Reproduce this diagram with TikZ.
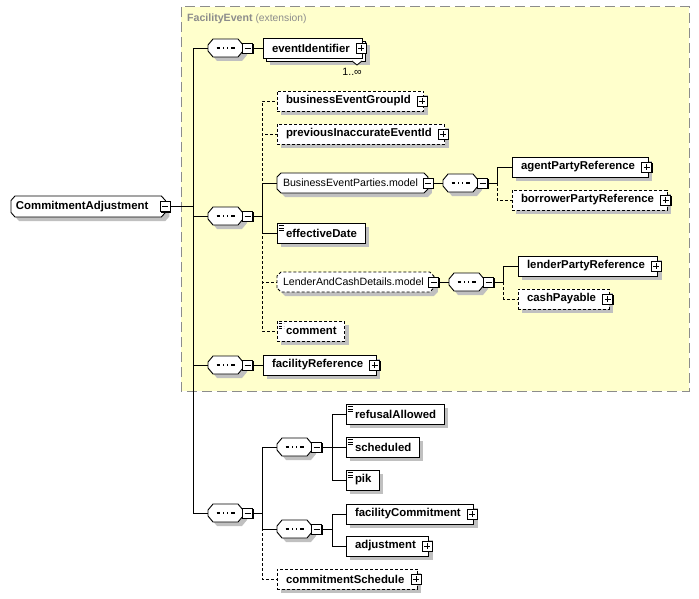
\documentclass[tikz,border=0pt]{standalone}
\usepackage{fontspec}
\setmainfont{Liberation Sans}
\usetikzlibrary{positioning,calc,shadows}

\definecolor{extfill}{HTML}{FFFFCC}
\definecolor{extline}{HTML}{8C8C8C}
\definecolor{shade}{HTML}{C0C0C0}

\newcommand{\lblfont}{\fontsize{11.4}{13}\selectfont\bfseries}
\newcommand{\grpfont}{\fontsize{10.6}{12}\selectfont}

% octagon with separate cuts in x and y
\makeatletter
\newdimen\oct@l \newdimen\oct@r \newdimen\oct@b \newdimen\oct@t
\newdimen\oct@cx \newdimen\oct@cy
\pgfkeys{/pgf/oct cut x/.initial=4pt,/pgf/oct cut y/.initial=4pt}
\pgfdeclareshape{octbox}{
  \inheritsavedanchors[from=rectangle]
  \inheritanchorborder[from=rectangle]
  \inheritanchor[from=rectangle]{center}
  \inheritanchor[from=rectangle]{north}
  \inheritanchor[from=rectangle]{south}
  \inheritanchor[from=rectangle]{east}
  \inheritanchor[from=rectangle]{west}
  \inheritanchor[from=rectangle]{north east}
  \inheritanchor[from=rectangle]{north west}
  \inheritanchor[from=rectangle]{south east}
  \inheritanchor[from=rectangle]{south west}
  \inheritanchor[from=rectangle]{base}
  \inheritanchor[from=rectangle]{mid}
  \backgroundpath{
    \southwest \global\oct@l=\pgf@x \global\oct@b=\pgf@y
    \northeast \global\oct@r=\pgf@x \global\oct@t=\pgf@y
    \pgfmathsetlength\oct@cx{\pgfkeysvalueof{/pgf/oct cut x}}
    \pgfmathsetlength\oct@cy{\pgfkeysvalueof{/pgf/oct cut y}}
    \pgfpathmoveto{\pgfqpoint{\oct@l}{\dimexpr\oct@b+\oct@cy\relax}}
    \pgfpathlineto{\pgfqpoint{\oct@l}{\dimexpr\oct@t-\oct@cy\relax}}
    \pgfpathlineto{\pgfqpoint{\dimexpr\oct@l+\oct@cx\relax}{\oct@t}}
    \pgfpathlineto{\pgfqpoint{\dimexpr\oct@r-\oct@cx\relax}{\oct@t}}
    \pgfpathlineto{\pgfqpoint{\oct@r}{\dimexpr\oct@t-\oct@cy\relax}}
    \pgfpathlineto{\pgfqpoint{\oct@r}{\dimexpr\oct@b+\oct@cy\relax}}
    \pgfpathlineto{\pgfqpoint{\dimexpr\oct@r-\oct@cx\relax}{\oct@b}}
    \pgfpathlineto{\pgfqpoint{\dimexpr\oct@l+\oct@cx\relax}{\oct@b}}
    \pgfpathclose
  }
}
\makeatother

\tikzset{
  wire/.style={line width=0.9pt},
  optwire/.style={wire,dash pattern=on 3pt off 2pt},
  optional/.style={dash pattern=on 3pt off 2pt},
  box/.style={draw,fill=white,line width=0.9pt,anchor=west,minimum height=20pt,
    inner xsep=0pt,inner ysep=0pt,outer sep=0pt,
    drop shadow={shadow xshift=4pt,shadow yshift=-4pt,fill=shade,opacity=1}},
  elem/.style={box,font=\lblfont,
    execute at begin node=\hspace*{9pt},execute at end node=\hspace*{13pt}},
  simple/.style={box,font=\lblfont,
    execute at begin node=\hspace*{9pt},execute at end node=\hspace*{8pt},
    path picture={\foreach \d in {2.5,5,7.5}
      \draw[line width=0.8pt] ([xshift=1.5pt,yshift=-\d pt]path picture bounding box.north west) -- ++(5pt,0pt);}},
  root/.style={box,shape=octbox,/pgf/oct cut x=4pt,/pgf/oct cut y=4.5pt,minimum height=21pt,
    font=\lblfont,execute at begin node=\hspace*{5pt},execute at end node=\hspace*{17pt}},
  grp/.style={box,shape=octbox,/pgf/oct cut x=4pt,/pgf/oct cut y=4pt,
    font=\grpfont,execute at begin node=\hspace*{6pt},execute at end node=\hspace*{10pt}},
  seqbox/.style={box,shape=octbox,/pgf/oct cut x=5pt,/pgf/oct cut y=6pt,
    minimum width=35pt,minimum height=18pt,
    path picture={
      \draw[line width=1.2pt] ([xshift=-9pt]path picture bounding box.center) -- ([xshift=9pt]path picture bounding box.center);
      \foreach \d in {-3.7,0,3.7}
        \fill ([xshift=\d pt-1.4pt,yshift=-1.4pt]path picture bounding box.center) rectangle ++(2.8pt,2.8pt);}},
  pm/.style={draw,fill=white,line width=0.8pt,minimum size=10pt,inner sep=0pt,
    drop shadow={shadow xshift=1pt,shadow yshift=-1pt,fill=black,opacity=1}},
  minus/.style={pm,path picture={\draw[line width=0.9pt] ([xshift=2pt]path picture bounding box.west) -- ([xshift=-2pt]path picture bounding box.east);}},
  plus/.style={pm,path picture={
    \draw[line width=0.9pt] ([xshift=2pt]path picture bounding box.west) -- ([xshift=-2pt]path picture bounding box.east);
    \draw[line width=0.9pt] ([yshift=-2pt]path picture bounding box.north) -- ([yshift=2pt]path picture bounding box.south);}},
}

\begin{document}
\begin{tikzpicture}[x=1pt,y=-1pt]
\useasboundingbox (0,0) rectangle (699,599);

% extension area
\fill[extfill] (181,7) rectangle (689,391);
\draw[extline,line width=1pt,dash pattern=on 10pt off 5pt] (181,7) rectangle (689,391);
\node[anchor=west,text=extline,inner sep=0pt] (ext) at (187,19)
  {\fontsize{10.6}{12}\selectfont\bfseries FacilityEvent\ \mdseries\fontsize{10.3}{12}\selectfont(extension)};

% root
\node[root] (ca) at (11,206.5) {CommitmentAdjustment};
\node[minus] (ca-m) at (ca.east) {};

% sequences below the root
\node[seqbox] (sq1) at (208,48) {};
\node[minus] (sq1-m) at ([xshift=4.5pt]sq1.east) {};
\node[seqbox] (sq2) at (208,216) {};
\node[minus] (sq2-m) at ([xshift=4.5pt]sq2.east) {};
\node[seqbox] (sq3) at (208,365) {};
\node[minus] (sq3-m) at ([xshift=4.5pt]sq3.east) {};
\node[seqbox] (sq4) at (208,513) {};
\node[minus] (sq4-m) at ([xshift=4.5pt]sq4.east) {};

% first sequence
\node[elem,drop shadow={shadow xshift=7pt,shadow yshift=-7pt,fill=shade,opacity=1},
  copy shadow={shadow xshift=3pt,shadow yshift=-3pt,draw=black,fill=white,line width=0.9pt}] (eid) at (263,48) {eventIdentifier};
\node[plus] (eid-p) at ([xshift=-1.5pt]eid.east) {};
\draw[fill=white,line width=0.8pt] (352,61) -- (357,65) -- (362,61);
\node[anchor=east,inner sep=0pt,font=\fontsize{10.6}{12}\selectfont] (eid-occ) at (362,72) {1..∞};

% second sequence
\node[elem,optional] (beg) at (277,101) {businessEventGroupId};
\node[plus] (beg-p) at ([xshift=-1.5pt]beg.east) {};
\node[elem,optional] (pie) at (277,134) {previousInaccurateEventId};
\node[plus] (pie-p) at ([xshift=-1.5pt]pie.east) {};
\node[grp] (bep) at (277,183) {BusinessEventParties.model};
\node[minus] (bep-m) at (bep.east) {};
\node[simple] (eff) at (277,233) {effectiveDate};
\node[grp,optional] (lcd) at (277,282) {LenderAndCashDetails.model};
\node[minus] (lcd-m) at (lcd.east) {};
\node[simple,optional] (cmt) at (277,331) {comment};

\node[seqbox] (sq7) at (443,183) {};
\node[minus] (sq7-m) at ([xshift=4.5pt]sq7.east) {};
\node[elem] (apr) at (512,167) {agentPartyReference};
\node[plus] (apr-p) at ([xshift=-1.5pt]apr.east) {};
\node[elem,optional] (bpr) at (512,200) {borrowerPartyReference};
\node[plus] (bpr-p) at ([xshift=-1.5pt]bpr.east) {};

\node[seqbox] (sq8) at (449,282) {};
\node[minus] (sq8-m) at ([xshift=4.5pt]sq8.east) {};
\node[elem] (lpr) at (518,266) {lenderPartyReference};
\node[plus] (lpr-p) at ([xshift=-1.5pt]lpr.east) {};
\node[elem,optional] (cpy) at (518,299) {cashPayable};
\node[plus] (cpy-p) at ([xshift=-1.5pt]cpy.east) {};

% third sequence
\node[elem] (fref) at (263,365) {facilityReference};
\node[plus] (fref-p) at ([xshift=-1.5pt]fref.east) {};

% fourth sequence
\node[seqbox] (sq5) at (277,447) {};
\node[minus] (sq5-m) at ([xshift=4.5pt]sq5.east) {};
\node[simple] (ral) at (346,414) {refusalAllowed};
\node[simple] (sch) at (346,447) {scheduled};
\node[simple] (pik) at (346,480) {pik};

\node[seqbox] (sq6) at (277,529) {};
\node[minus] (sq6-m) at ([xshift=4.5pt]sq6.east) {};
\node[elem] (fcm) at (346,514) {facilityCommitment};
\node[plus] (fcm-p) at ([xshift=-1.5pt]fcm.east) {};
\node[elem] (adj) at (346,546) {adjustment};
\node[plus] (adj-p) at ([xshift=-1.5pt]adj.east) {};

\node[elem,optional] (csc) at (277,579) {commitmentSchedule};
\node[plus] (csc-p) at ([xshift=-1.5pt]csc.east) {};

% branch points
\coordinate (b0) at (193,0);
\coordinate (b1) at (262,0);
\coordinate (b2) at (497,0);
\coordinate (b3) at (503.5,0);
\coordinate (b4) at (332,0);

% connectors
\draw[wire] (ca-m.east) -- (ca-m.east -| b0);
\foreach \s in {sq1,sq2,sq3,sq4}
  \draw[wire] (ca-m.east -| b0) |- (\s.west);
\draw[wire] (sq1-m.east) -- (eid.west);
\draw[wire] (sq3-m.east) -- (fref.west);

\draw[wire] (sq2-m.east) -- (sq2-m.east -| b1);
\foreach \c in {beg,pie,lcd,cmt}
  \draw[optwire] (sq2-m.east -| b1) |- (\c.west);
\foreach \c in {bep,eff}
  \draw[wire] (sq2-m.east -| b1) |- (\c.west);

\draw[wire] (bep-m.east) -- (sq7.west);
\draw[wire] (sq7-m.east) -- (sq7-m.east -| b2);
\draw[wire] (sq7-m.east -| b2) |- (apr.west);
\draw[optwire] (sq7-m.east -| b2) |- (bpr.west);

\draw[wire] (lcd-m.east) -- (sq8.west);
\draw[wire] (sq8-m.east) -- (sq8-m.east -| b3);
\draw[wire] (sq8-m.east -| b3) |- (lpr.west);
\draw[optwire] (sq8-m.east -| b3) |- (cpy.west);

\draw[wire] (sq4-m.east) -- (sq4-m.east -| b1);
\draw[optwire] (sq4-m.east -| b1) |- (csc.west);
\foreach \c in {sq5,sq6}
  \draw[wire] (sq4-m.east -| b1) |- (\c.west);

\draw[wire] (sq5-m.east) -- (sq5-m.east -| b4);
\foreach \c in {ral,sch,pik}
  \draw[wire] (sq5-m.east -| b4) |- (\c.west);
\draw[wire] (sq6-m.east) -- (sq6-m.east -| b4);
\foreach \c in {fcm,adj}
  \draw[wire] (sq6-m.east -| b4) |- (\c.west);
\end{tikzpicture}
\end{document}
